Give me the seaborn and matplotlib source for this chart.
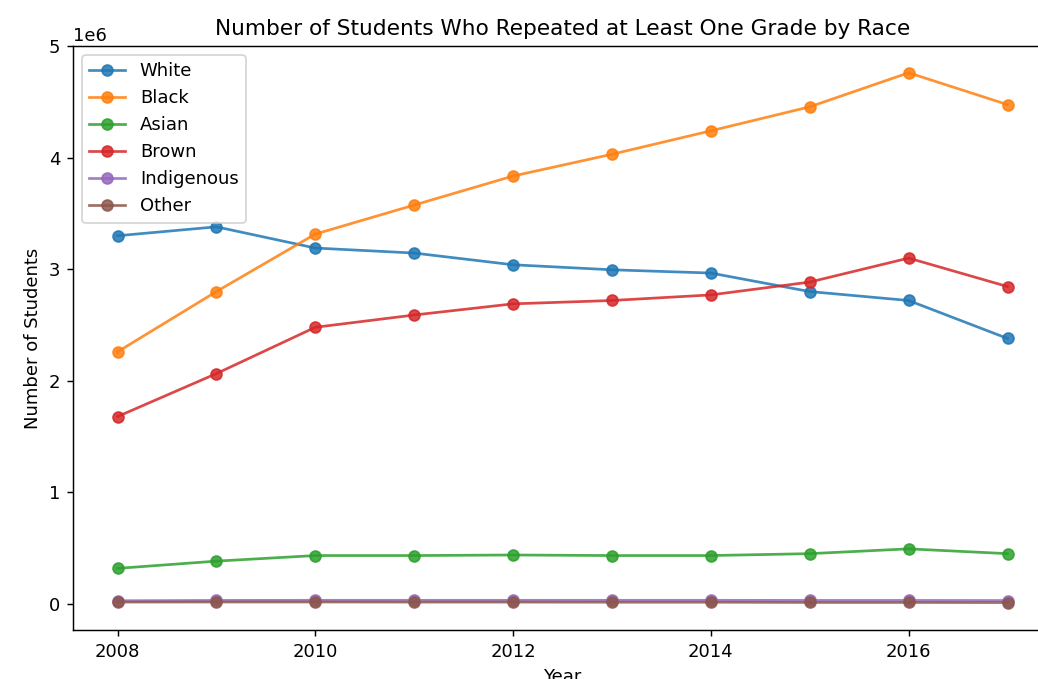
import seaborn as sns
import numpy as np
import pandas as pd
import matplotlib
matplotlib.use('Agg')
import matplotlib.pyplot as plt

years = [2008, 2009, 2010, 2011, 2012, 2013, 2014, 2015, 2016, 2017]
races = ['White', 'Black', 'Asian', 'Brown', 'Indigenous', 'Other']

white = [3.30e6, 3.38e6, 3.19e6, 3.145e6, 3.04e6, 2.995e6, 2.966e6, 2.80e6, 2.72e6, 2.38e6]
black = [2.26e6, 2.80e6, 3.315e6, 3.575e6, 3.835e6, 4.03e6, 4.24e6, 4.455e6, 4.76e6, 4.475e6]
asian = [0.32e6, 0.385e6, 0.435e6, 0.435e6, 0.44e6, 0.435e6, 0.435e6, 0.452e6, 0.495e6, 0.452e6]
brown = [1.68e6, 2.065e6, 2.48e6, 2.59e6, 2.69e6, 2.72e6, 2.77e6, 2.885e6, 3.10e6, 2.845e6]
indigenous = [30000, 33000, 34000, 34000, 34000, 34000, 34000, 33000, 33000, 32000]
other = [18000, 19000, 19000, 18000, 18000, 17000, 17000, 15000, 15000, 14000]

series = [white, black, asian, brown, indigenous, other]

rows = []
for race, vals in zip(races, series):
    for y, v in zip(years, vals):
        rows.append({'Year': y, 'Students': v, 'Race': race})
df = pd.DataFrame(rows)

fig = plt.figure(figsize=(1038 / 130, 679 / 130), dpi=130)
ax = fig.add_axes([73 / 1038, 1 - 630 / 679, (1052 - 73) / 1038, (630 - 46) / 679])

sns.lineplot(data=df, x='Year', y='Students', hue='Race', hue_order=races,
             palette='tab10', marker='o', markersize=6, linewidth=1.5,
             markeredgecolor=None, markeredgewidth=1.0, alpha=0.85, ax=ax)

ax.set_ylim(-0.232e6, 5.0e6)
ax.spines['right'].set_visible(False)
sns.move_legend(ax, 'upper left', title=None)
ax.set_title('Number of Students Who Repeated at Least One Grade by Race')
ax.set_xlabel('Year')
ax.set_ylabel('Number of Students')

fig.savefig('out.png', dpi=130)
